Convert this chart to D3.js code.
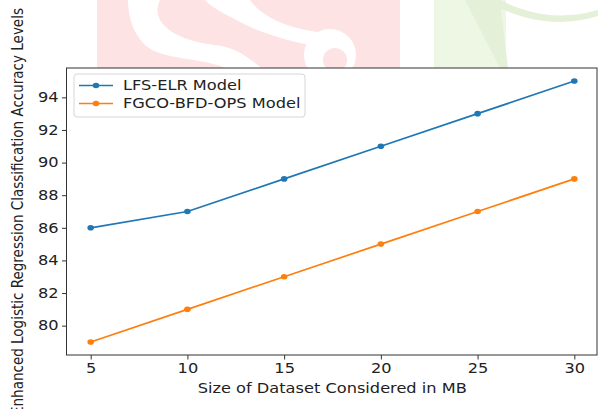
<!DOCTYPE html>
<html>
<head>
<meta charset="utf-8">
<script src="https://cdn.jsdelivr.net/npm/d3@7"></script>
<style>
  body { margin: 0; background: #fff; }
  svg { display: block; font-family: "DejaVu Sans", sans-serif; }
</style>
</head>
<body>
<div id="chart"></div>
<script>
// data
const sizes = [5, 10, 15, 20, 25, 30]
const lfsElr = [86, 87, 89, 91, 93, 95]
const fgcoBfdOps = [79, 81, 83, 85, 87, 89]
const xTicks = [5, 10, 15, 20, 25, 30]
const yTicks = [80, 82, 84, 86, 88, 90, 92, 94]
const seriesNames = ["LFS-ELR Model", "FGCO-BFD-OPS Model"]
const seriesColors = ["#1f77b4", "#ff7f0e"]

const width = 598
const height = 409
const margin = { top: 68, right: -0.5, bottom: 54, left: 66.5 }
const fontSize = "13.5px"
// the source picture is stretched sideways, so is its horizontal text
const stretch = 1.2

const svg = d3.select("#chart")
  .append("svg")
  .attr("width", width)
  .attr("height", height)

// faint watermark behind the figure
const mark = svg.append("g")
mark.append("rect").attr("x", 97).attr("y", 0).attr("width", 303).attr("height", 68).attr("fill", "#fde3e3")
mark.append("path")
  .attr("d", "M128,0 L160,0 C150,20 170,40 215,45 C240,48 250,60 262,68 L225,68 C205,58 160,60 145,45 C135,35 128,20 128,0 Z")
  .attr("fill", "#fff")
mark.append("path")
  .attr("d", "M205,0 L250,0 C260,15 285,28 318,32 L330,48 C300,45 265,35 240,22 C225,14 212,8 205,0 Z")
  .attr("fill", "#fff")
mark.append("circle").attr("cx", 330).attr("cy", 55).attr("r", 26).attr("fill", "#fff")
mark.append("circle").attr("cx", 335).attr("cy", 60).attr("r", 12).attr("fill", "#fde3e3")
mark.append("path")
  .attr("d", "M280,0 L400,0 L400,30 C370,15 330,10 290,8 Z")
  .attr("fill", "#fde3e3")
mark.append("rect").attr("x", 434).attr("y", 0).attr("width", 72).attr("height", 68).attr("fill", "#eef7e4")
mark.append("path").attr("d", "M465,0 L500,0 L508,68 L500,68 Z").attr("fill", "#e4f1d8")
mark.append("path")
  .attr("d", "M500,0 C525,12 555,22 598,10 L598,16 C560,28 525,20 500,8 Z")
  .attr("fill", "#e4f1d8")

const x = d3.scaleLinear()
  .domain([3.75, 31.25])
  .range([margin.left, width - margin.right])

const y = d3.scaleLinear()
  .domain([78.2, 95.8])
  .range([height - margin.bottom, margin.top])

// plot area
svg.append("rect")
  .attr("x", x(3.75))
  .attr("y", y(95.8))
  .attr("width", width - 1 - x(3.75))
  .attr("height", y(78.2) - y(95.8))
  .attr("fill", "#fff")
  .attr("stroke", "#333")
  .attr("stroke-width", 1)

// x axis
const xAxis = svg.append("g")
  .attr("transform", `translate(0,${y(78.2)})`)
  .call(d3.axisBottom(x).tickValues(xTicks).tickSize(4.5).tickPadding(3.5))
xAxis.select(".domain").remove()
xAxis.selectAll(".tick text")
  .attr("transform", function () { return `translate(0,${this.getAttribute("y")}) scale(${stretch},1)` })
  .attr("y", 0)

// y axis
const yAxis = svg.append("g")
  .attr("transform", `translate(${x(3.75)},0)`)
  .call(d3.axisLeft(y).tickValues(yTicks).tickSize(4.5).tickPadding(3.5))
yAxis.select(".domain").remove()
yAxis.selectAll(".tick text")
  .attr("transform", function () { return `translate(${this.getAttribute("x")},0) scale(${stretch},1)` })
  .attr("x", 0)

svg.selectAll(".tick line").attr("stroke", "#333")
svg.selectAll(".tick text")
  .attr("fill", "#222")
  .style("font-size", fontSize)
  .style("font-family", "DejaVu Sans, sans-serif")

// axis titles
svg.append("text")
  .attr("transform", `translate(${(x(3.75) + width) / 2},393) scale(${stretch},1)`)
  .attr("text-anchor", "middle")
  .attr("fill", "#222")
  .style("font-size", fontSize)
  .text("Size of Dataset Considered in MB")

svg.append("text")
  .attr("transform", `translate(22.5,${(y(78.2) + y(95.8)) / 2}) scale(${stretch},1) rotate(-90)`)
  .attr("text-anchor", "middle")
  .attr("fill", "#222")
  .style("font-size", fontSize)
  .text("Enhanced Logistic Regression Classification Accuracy Levels")

// lines
const series = [lfsElr, fgcoBfdOps]
const line = d3.line()
  .x((d, i) => x(sizes[i]))
  .y(d => y(d))

series.forEach((values, s) => {
  svg.append("path")
    .datum(values)
    .attr("fill", "none")
    .attr("stroke", seriesColors[s])
    .attr("stroke-width", 1.7)
    .attr("stroke-linejoin", "round")
    .attr("d", line)

  svg.selectAll(null)
    .data(values)
    .join("ellipse")
    .attr("cx", (d, i) => x(sizes[i]))
    .attr("cy", d => y(d))
    .attr("rx", 3.3)
    .attr("ry", 2.8)
    .attr("fill", seriesColors[s])
})

// legend
const legend = svg.append("g").attr("transform", "translate(74,74)")
legend.append("rect")
  .attr("width", 231)
  .attr("height", 43)
  .attr("rx", 3)
  .attr("fill", "#fff")
  .attr("stroke", "#d6d6d6")

seriesNames.forEach((name, s) => {
  const row = legend.append("g").attr("transform", `translate(0,${11.5 + s * 18})`)
  row.append("line")
    .attr("x1", 5).attr("x2", 39)
    .attr("stroke", seriesColors[s])
    .attr("stroke-width", 1.7)
  row.append("ellipse")
    .attr("cx", 22)
    .attr("rx", 3.3)
    .attr("ry", 2.8)
    .attr("fill", seriesColors[s])
  row.append("text")
    .attr("transform", `translate(49,0) scale(${stretch},1)`)
    .attr("dy", "0.35em")
    .attr("fill", "#222")
    .style("font-size", fontSize)
    .text(name)
})
</script>
</body>
</html>
